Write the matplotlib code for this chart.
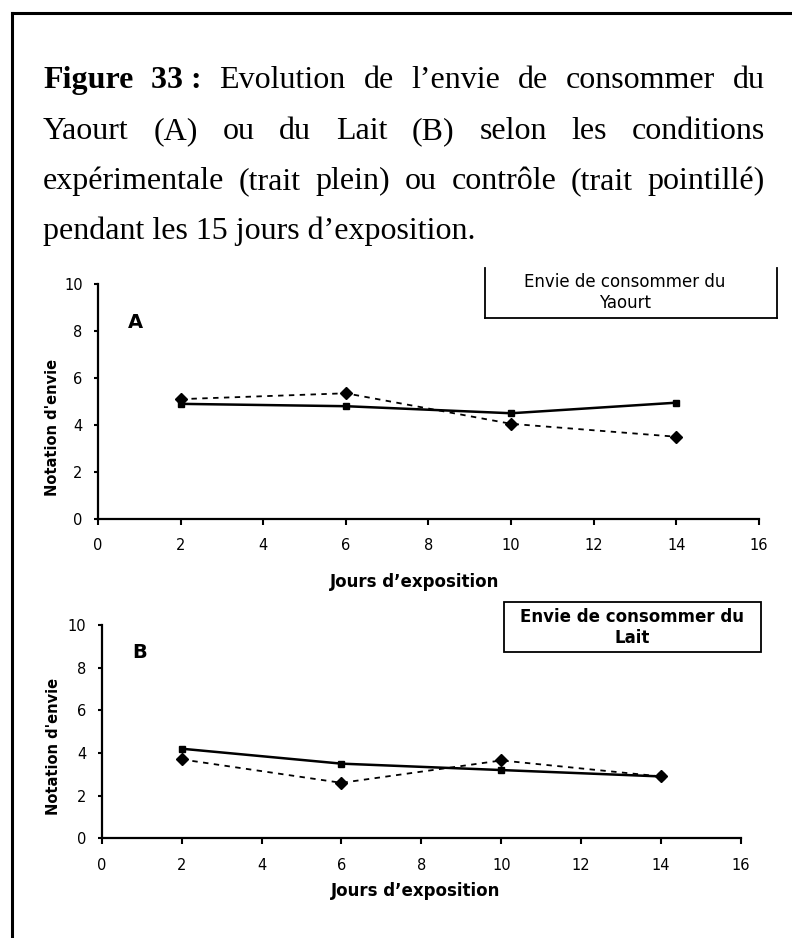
import matplotlib
matplotlib.use("Agg")
import matplotlib.pyplot as plt
from matplotlib.lines import Line2D
from matplotlib.patches import Rectangle

plt.rcParams["font.family"] = ["DejaVu Sans"]

# data
days = [2, 6, 10, 14]
yaourt_exp = [4.9, 4.8, 4.5, 4.95]
yaourt_ctrl = [5.1, 5.35, 4.05, 3.5]
lait_exp = [4.2, 3.5, 3.2, 2.9]
lait_ctrl = [3.7, 2.6, 3.65, 2.9]

caption_lines = [
    [("Figure", True), ("33 :", True), ("Evolution", False), ("de", False), ("l\u2019envie", False),
     ("de", False), ("consommer", False), ("du", False)],
    [("Yaourt", False), ("(A)", False), ("ou", False), ("du", False), ("Lait", False), ("(B)", False),
     ("selon", False), ("les", False), ("conditions", False)],
    [("exp\u00e9rimentale", False), ("(trait", False), ("plein)", False), ("ou", False),
     ("contr\u00f4le", False), ("(trait", False), ("pointill\u00e9)", False)],
]
last_line = "pendant les 15 jours d\u2019exposition."

W, H = 792, 938
fig = plt.figure(figsize=(W / 100, H / 100), dpi=100)


def fx(x):
    return x / W


def fy(y):
    return 1 - y / H


# page frame (left and top edges only)
fig.add_artist(Line2D([fx(12), fx(12)], [0, fy(13)], color="black", lw=2.2, transform=fig.transFigure))
fig.add_artist(Line2D([fx(12), 1], [fy(13), fy(13)], color="black", lw=2.2, transform=fig.transFigure))

# caption, justified
serif = "Liberation Serif"
csize = 23
left, right = 43, 765
baselines = [88, 139, 189, 239]
renderer = fig.canvas.get_renderer()
for words, yb in zip(caption_lines, baselines):
    items = []
    for w, bold in words:
        t = fig.text(0, fy(yb), w, family=serif, fontsize=csize,
                     fontweight="bold" if bold else "normal", va="baseline", ha="left")
        items.append(t)
    widths = [t.get_window_extent(renderer).width for t in items]
    gap = (right - left - sum(widths)) / (len(items) - 1)
    x = left
    for t, wd in zip(items, widths):
        t.set_x(fx(x))
        x += wd + gap
fig.text(fx(left), fy(baselines[3]), last_line, family=serif, fontsize=csize, va="baseline", ha="left")


def style_axes(ax):
    for s in ["top", "right"]:
        ax.spines[s].set_visible(False)
    for s in ["left", "bottom"]:
        ax.spines[s].set_linewidth(1.6)
    ax.set_xlim(0, 16)
    ax.set_ylim(0, 10)
    ax.set_xticks(range(0, 17, 2))
    ax.set_yticks(range(0, 11, 2))
    ax.tick_params(axis="x", direction="out", length=4, width=1.5, pad=10, labelsize=10.5)
    ax.tick_params(axis="y", direction="out", length=3, width=1.5, pad=8, labelsize=10.5)
    ax.patch.set_alpha(0)


def plot_pair(ax, exp, ctrl):
    ax.plot(days, exp, color="black", lw=1.8, marker="s", ms=4, clip_on=False)
    ax.plot(days, ctrl, color="black", lw=1.3, ls=(0, (3, 3)), marker="D", ms=6.5, clip_on=False)


# panel A
axA = fig.add_axes([fx(98), fy(519), (759 - 98) / W, (519 - 284) / H])
style_axes(axA)
plot_pair(axA, yaourt_exp, yaourt_ctrl)
fig.text(fx(135), fy(322), "A", fontsize=14, fontweight="bold", ha="center", va="center")
fig.text(fx(53), fy(427), "Notation d'envie", fontsize=10.5, fontweight="bold",
         rotation=90, ha="center", va="center")
fig.text(fx(415), fy(582), "Jours d\u2019exposition", fontsize=12, fontweight="bold",
         ha="center", va="center")

# legend box A (no top edge)
for xs, ys in [([485, 485], [268, 318]), ([777, 777], [268, 318]), ([485, 777], [318, 318])]:
    fig.add_artist(Line2D([fx(v) for v in xs], [fy(v) for v in ys], color="black", lw=1.3,
                          transform=fig.transFigure))
fig.text(fx(625), fy(282), "Envie de consommer du", fontsize=12, ha="center", va="center")
fig.text(fx(625), fy(303), "Yaourt", fontsize=12, ha="center", va="center")

# panel B
axB = fig.add_axes([fx(101.7), fy(838.3), (741 - 101.7) / W, (838.3 - 625) / H])
style_axes(axB)
plot_pair(axB, lait_exp, lait_ctrl)
fig.text(fx(140), fy(652), "B", fontsize=14, fontweight="bold", ha="center", va="center")
fig.text(fx(54), fy(746), "Notation d'envie", fontsize=10.5, fontweight="bold",
         rotation=90, ha="center", va="center")
fig.text(fx(416), fy(891), "Jours d\u2019exposition", fontsize=12, fontweight="bold",
         ha="center", va="center")

fig.add_artist(Rectangle((fx(504), fy(652)), (761 - 504) / W, (652 - 602) / H, fill=False,
                         edgecolor="black", lw=1.3, transform=fig.transFigure))
fig.text(fx(632), fy(617), "Envie de consommer du", fontsize=12, fontweight="bold",
         ha="center", va="center")
fig.text(fx(632), fy(638), "Lait", fontsize=12, fontweight="bold", ha="center", va="center")

fig.savefig("out.png", dpi=100)
